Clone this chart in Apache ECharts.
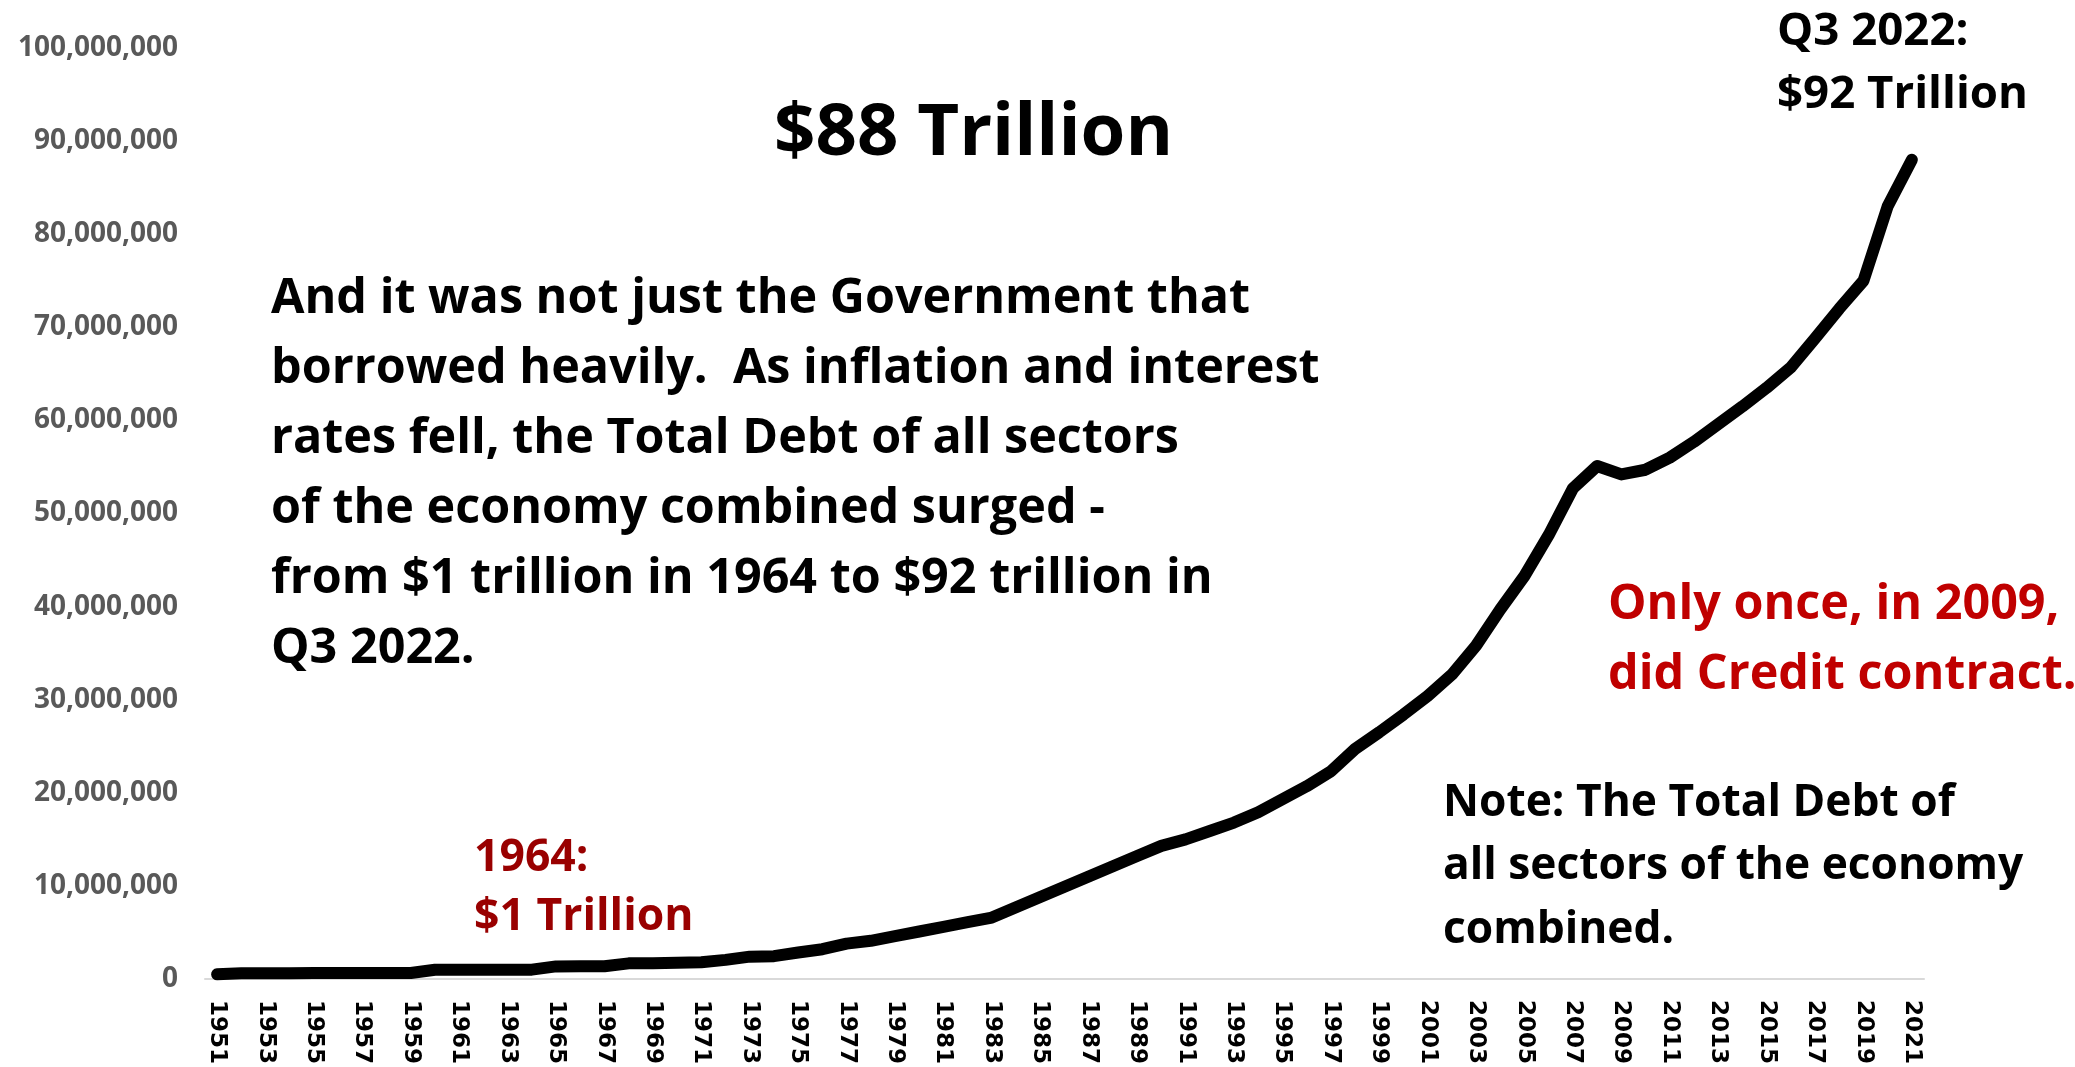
<!DOCTYPE html>
<html>
<head>
<meta charset="utf-8">
<title>Total Debt of All Sectors</title>
<script src="https://cdn.jsdelivr.net/npm/echarts@6/dist/echarts.min.js"></script>
<style>
  html, body { margin: 0; padding: 0; background: #ffffff; }
  #chart { width: 2075px; height: 1067px; }
</style>
</head>
<body>
<div id="chart"></div>
<script>
// Years on the category axis
const years = [
  '1951','1952','1953','1954','1955','1956','1957','1958','1959','1960',
  '1961','1962','1963','1964','1965','1966','1967','1968','1969','1970',
  '1971','1972','1973','1974','1975','1976','1977','1978','1979','1980',
  '1981','1982','1983','1984','1985','1986','1987','1988','1989','1990',
  '1991','1992','1993','1994','1995','1996','1997','1998','1999','2000',
  '2001','2002','2003','2004','2005','2006','2007','2008','2009','2010',
  '2011','2012','2013','2014','2015','2016','2017','2018','2019','2020',
  '2021'
];

// Total debt of all sectors, thousands of dollars
const totalDebt = [
  500000, 610000, 620000, 620000, 630000, 630000, 640000, 640000, 650000, 990000,
  1000000, 1000000, 1000000, 1000000, 1350000, 1360000, 1370000, 1680000, 1700000, 1750000,
  1800000, 2050000, 2400000, 2450000, 2850000, 3200000, 3800000, 4100000, 4600000, 5100000,
  5600000, 6100000, 6600000, 7700000, 8800000, 9900000, 11000000, 12100000, 13200000, 14300000,
  15000000, 15900000, 16800000, 17900000, 19300000, 20700000, 22300000, 24700000, 26500000, 28400000,
  30400000, 32700000, 35800000, 39700000, 43300000, 47700000, 52700000, 55100000, 54200000, 54700000,
  56000000, 57700000, 59600000, 61500000, 63500000, 65700000, 68800000, 72000000, 75000000, 83000000,
  88000000
];

// Value axis range
const yMin = 0;
const yMax = 100000000;
const yStep = 10000000;

// Annotation texts
const headlineText = ['$88 Trillion'];
const paragraphText = [
  'And it was not just the Government that',
  'borrowed heavily.  As inflation and interest',
  'rates fell, the Total Debt of all sectors',
  'of the economy combined surged -',
  'from $1 trillion in 1964 to $92 trillion in',
  'Q3 2022.'
];
const latestText = ['Q3 2022:', '$92 Trillion'];
const contractText = ['Only once, in 2009,', 'did Credit contract.'];
const startText = ['1964:', '$1 Trillion'];
const noteText = ['Note: The Total Debt of', 'all sectors of the economy', 'combined.'];

const FONT = '"Open Sans", "Noto Sans", "Liberation Sans", sans-serif';

function lines(texts, x, y0, step, size, color) {
  return texts.map(function (t, i) {
    return {
      type: 'text',
      x: x,
      y: y0 + i * step,
      silent: true,
      style: {
        text: t,
        fill: color,
        font: 'bold ' + size + 'px ' + FONT,
        textAlign: 'left',
        textVerticalAlign: 'middle',
        align: 'left',
        verticalAlign: 'middle'
      }
    };
  });
}

const graphics = [].concat(
  lines(headlineText, 774, 134, 0, 72.5, '#000000'),
  lines(paragraphText, 271, 299, 70, 48.5, '#000000'),
  lines(latestText, 1777, 32, 63, 45.6, '#000000'),
  lines(contractText, 1608, 605, 70, 48.5, '#C00000'),
  lines(startText, 474, 858, 59, 44.5, '#990000'),
  lines(noteText, 1443, 803, 63.5, 44.3, '#000000')
);

const chart = echarts.init(document.getElementById('chart'), null, { renderer: 'canvas' });

chart.setOption({
  animation: false,
  backgroundColor: '#ffffff',
  grid: { left: 205, right: 151, top: 48, bottom: 87, containLabel: false },
  xAxis: {
    type: 'category',
    data: years,
    boundaryGap: true,
    axisLine: { show: true, lineStyle: { color: '#d9d9d9', width: 2 } },
    axisTick: { show: false },
    splitLine: { show: false },
    axisLabel: {
      interval: 1,
      rotate: -90,
      margin: 21,
      color: '#000000',
      fontFamily: '"DejaVu Sans", sans-serif',
      fontWeight: 'bold',
      fontSize: 23
    }
  },
  yAxis: {
    type: 'value',
    min: yMin,
    max: yMax,
    interval: yStep,
    axisLine: { show: false },
    axisTick: { show: false },
    splitLine: { show: false },
    axisLabel: {
      margin: 27,
      color: '#595959',
      fontFamily: FONT,
      fontWeight: 'bold',
      fontSize: 28,
      formatter: function (v) { return v.toLocaleString('en-US'); }
    }
  },
  series: [{
    type: 'line',
    data: totalDebt,
    symbol: 'none',
    smooth: false,
    lineStyle: { color: '#000000', width: 12, cap: 'round', join: 'round' }
  }],
  graphic: graphics
});
</script>
</body>
</html>
